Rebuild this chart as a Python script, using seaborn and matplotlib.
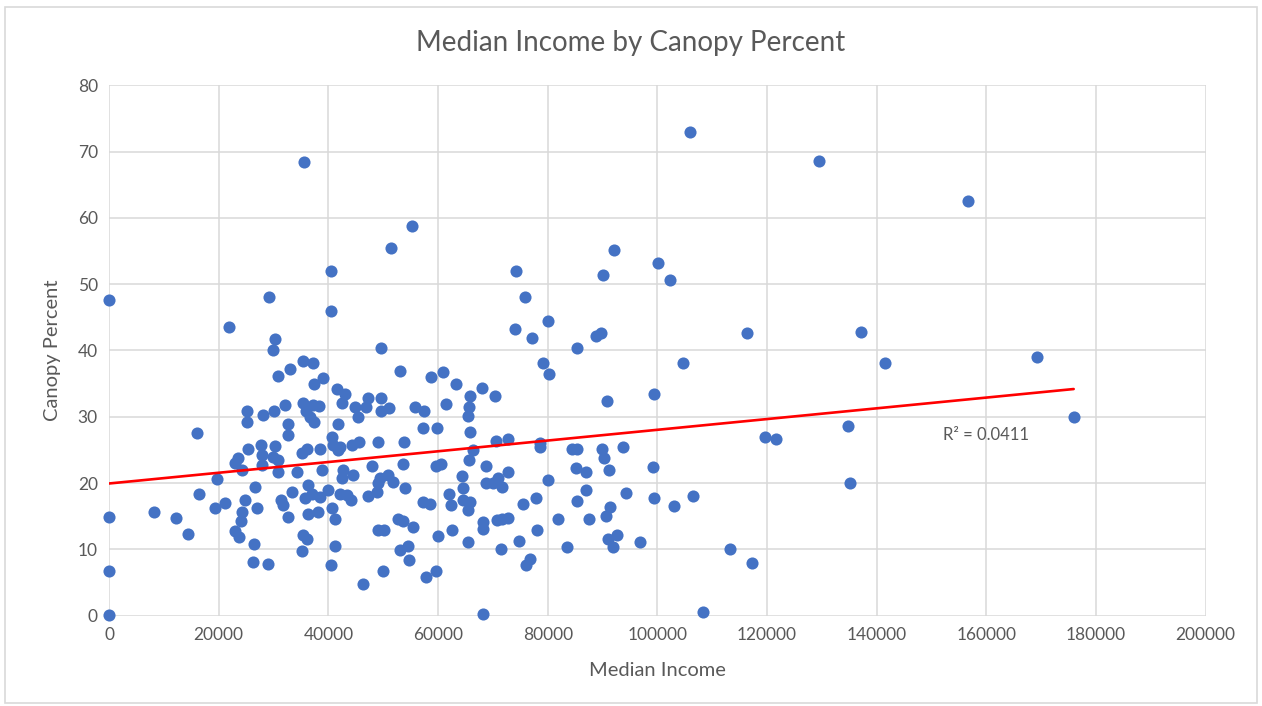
import matplotlib.pyplot as plt
import matplotlib.patches as mpatches
import numpy as np
import pandas as pd
import seaborn as sns

# values
median_income = [
    0, 29170, 21880, 30320, 29950, 32940, 30870, 35370, 25210, 25100,
    28020, 30140, 32090, 32690, 32690, 15990, 35370,
    25400, 27650, 30260, 23580, 22970, 24190, 27830, 27830, 29950, 30870,
    30750, 35130, 34220, 19740, 26610, 16410, 33300, 35730, 24790, 31300,
    31780, 21150, 19320, 26920, 24190, 8260, 0, 12210, 24060, 32690,
    14460, 22970, 23700, 26490, 35420, 35130, 26250, 29040, 0, 0,
    35610, 40420, 51410, 55180,
    40420, 49640, 37130, 52990, 39070, 37370, 58700, 60830, 63200, 67940,
    41630, 43020, 37250, 38340, 42530, 44850, 47160, 46900, 49590, 51040,
    49530, 45450, 35910, 36640, 37430, 55780, 57420, 61430, 65870, 65630,
    65390, 70370, 41800, 57180, 59740, 65810, 40590, 48980, 53830, 45630,
    44240, 42110, 36040, 38470,
    40890, 41800, 66300, 70500, 38770, 42710, 44540, 42410, 48000, 53650,
    59550, 60470, 65630, 68730, 64410, 49410, 50920, 51830, 48980, 68730,
    70060, 53960, 64590, 62040, 36330, 36950, 39980, 42110, 43330, 44120,
    38470, 47160, 48800, 57300, 58520, 62350, 64590, 65810, 65510, 40590,
    41190, 36330, 38160, 52630, 53540, 55360, 49100, 50190, 60030, 62470,
    65390, 68230, 68230, 70790, 36040, 41190, 40470, 53050, 54560, 54740,
    50010, 46250, 57790, 59610, 68130,
    92120, 100140, 102330, 74200, 90110, 75780, 80090, 74010, 77170, 88780,
    89640, 85260, 79120, 80160, 104700, 99350, 90730, 72790, 78570, 84350,
    85260, 89980, 93760,
    78570, 90240, 99230, 85130, 86900, 91150, 72790, 70970, 71580, 80090,
    86900, 94250, 99410, 106520, 77790, 75530, 85260, 91330, 103050, 90540,
    81910, 87560, 71580, 72790, 77970, 74800, 71460, 91030, 92670, 91940,
    96800, 83440, 76750, 75960, 108230,
    105920, 129490, 116360, 137150, 141520, 119650, 121720, 134780, 135080, 113210,
    117280, 156720, 169230, 175920,
]

canopy_percent = [
    47.6, 48.1, 43.6, 41.7, 40.1, 37.2, 36.1, 38.4, 30.8, 29.2,
    30.2, 30.8, 31.7, 28.9, 27.2, 27.5, 32.1,
    25.2, 25.7, 25.6, 23.7, 23.0, 22.0, 24.2, 22.7, 24.0, 23.5,
    21.6, 24.6, 21.7, 20.6, 19.4, 18.4, 18.7, 17.7, 17.4, 17.4,
    16.7, 17.0, 16.3, 16.2, 15.7, 15.6, 14.9, 14.8, 14.3, 14.9,
    12.3, 12.7, 11.9, 10.8, 12.2, 9.7, 8.1, 7.8, 6.7, 0.1,
    68.4, 52.0, 55.5, 58.7,
    45.9, 40.4, 38.1, 36.9, 35.9, 34.9, 36.0, 36.8, 34.9, 34.3,
    34.2, 33.5, 31.8, 31.6, 32.1, 31.4, 32.8, 31.5, 32.8, 31.3,
    30.8, 30.0, 30.8, 30.0, 29.2, 31.4, 30.9, 31.9, 33.1, 31.5,
    30.1, 33.1, 28.9, 28.3, 28.3, 27.7, 27.0, 26.2, 26.2, 26.2,
    25.7, 25.5, 25.2, 25.1,
    25.7, 25.0, 25.0, 26.3, 22.0, 22.0, 21.2, 20.7, 22.6, 22.9,
    22.5, 22.9, 23.5, 22.6, 21.1, 20.7, 21.2, 20.2, 19.95, 20.0,
    20.0, 19.2, 19.2, 18.4, 19.7, 18.4, 18.9, 18.4, 18.2, 17.4,
    17.9, 18.0, 18.7, 17.2, 16.9, 16.7, 17.4, 17.2, 15.9, 16.2,
    14.6, 15.4, 15.7, 14.6, 14.3, 13.3, 12.9, 12.9, 12.0, 12.9,
    11.1, 14.1, 13.0, 14.4, 11.5, 10.5, 7.6, 9.9, 10.5, 8.4,
    6.7, 4.7, 5.9, 6.8, 0.2,
    55.2, 53.2, 50.6, 52.0, 51.4, 48.1, 44.4, 43.2, 41.8, 42.1,
    42.6, 40.3, 38.1, 36.5, 38.1, 33.5, 32.4, 26.6, 26.0, 25.2,
    25.2, 25.2, 25.5,
    25.4, 23.7, 22.4, 22.2, 21.6, 21.9, 21.7, 20.7, 19.4, 20.5,
    18.9, 18.5, 17.8, 18.0, 17.8, 16.8, 17.3, 16.4, 16.6, 15.0,
    14.6, 14.6, 14.5, 14.8, 12.9, 11.25, 10.0, 11.55, 12.2, 10.4,
    11.05, 10.3, 8.6, 7.6, 0.5,
    73.0, 68.5, 42.7, 42.8, 38.05, 27.0, 26.7, 28.6, 19.95, 10.0,
    8.0, 62.5, 39.0, 29.95,
]

x_ticks = list(range(0, 200001, 20000))
y_ticks = list(range(0, 81, 10))
r2_label = "R² = 0.0411"

df = pd.DataFrame({"Median Income": median_income, "Canopy Percent": canopy_percent})

sns.set_theme(style="white")
plt.rcParams['font.family'] = ['Lato', 'DejaVu Sans']

text_grey = "#595959"
fig = plt.figure(figsize=(12.62, 7.06), dpi=100)
ax = fig.add_axes([0.0864, 0.128, 0.869, 0.7513])

# chart frame like the screenshot
fig.patches.append(mpatches.Rectangle((0.004, 0.004), 0.992, 0.986, transform=fig.transFigure,
                                      fill=False, edgecolor="#d9d9d9", linewidth=1.2))

sns.scatterplot(data=df, x="Median Income", y="Canopy Percent", ax=ax,
                color="#4472C4", s=76, linewidth=0, zorder=3, clip_on=False)

# linear trendline over the data range
slope, intercept = np.polyfit(df["Median Income"], df["Canopy Percent"], 1)
xs = np.array([df["Median Income"].min(), df["Median Income"].max()])
ax.plot(xs, intercept + slope * xs, color="#FF0000", linewidth=1.9, zorder=4)

ax.text(152000, 27.3, r2_label, color=text_grey, fontsize=12, va="center", ha="left")

ax.set_xlim(0, 200000)
ax.set_ylim(0, 80)
ax.set_xticks(x_ticks)
ax.set_yticks(y_ticks)
ax.set_xticklabels([str(t) for t in x_ticks])
ax.grid(True, color="#d9d9d9", linewidth=1.1)
ax.set_axisbelow(True)
for s in ax.spines.values():
    s.set_visible(False)
ax.tick_params(axis="both", length=0, labelsize=12.5, colors=text_grey, pad=8)

fig.text(0.5, 0.939, "Median Income by Canopy Percent", fontsize=20, color=text_grey,
         ha="center", va="center")
ax.set_xlabel("Median Income", fontsize=14.5, color=text_grey, labelpad=14)
ax.set_ylabel("Canopy Percent", fontsize=14.5, color=text_grey, labelpad=12)

fig.savefig("out.png", dpi=100)
